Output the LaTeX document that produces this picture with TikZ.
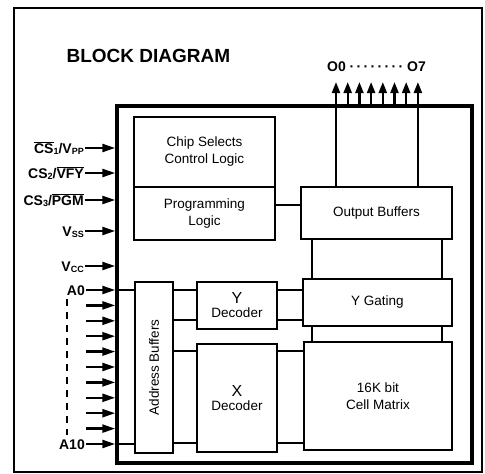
\documentclass[tikz,border=0pt]{standalone}
\usepackage{fontspec}
\setmainfont{Liberation Sans}
\usetikzlibrary{arrows.meta}
\newcommand{\ovl}[1]{$\overline{\mbox{#1}}$}
\newcommand{\lowsub}[1]{\raisebox{-0.25ex}{\fontsize{9}{10}\selectfont #1}}

\begin{document}
\begin{tikzpicture}[x=1pt, y=-1pt,
    myblock/.style={rectangle, draw, line width=2.8pt, inner sep=0pt, align=center, font=\fontsize{13.5}{17}\selectfont},
    decblock/.style={myblock, font=\fontsize{13.5}{14}\selectfont},
    chipbox/.style={rectangle, draw, line width=3.5pt, inner sep=0pt},
    pinlabel/.style={anchor=east, inner sep=1pt, text height=10pt, text depth=0pt, font=\bfseries\fontsize{14}{16}\selectfont},
    wire/.style={line width=2.4pt},
    pinarrow/.style={-{Triangle[length=13pt, width=8pt]}, line width=2.4pt},
    outarrow/.style={-{Triangle[length=11pt, width=8pt]}, line width=2.2pt},
    addrdash/.style={line width=2.2pt, dash pattern=on 7pt off 6pt},
]
\useasboundingbox (0,0) rectangle (485,474);
\draw[line width=1.6pt] (14,8) rectangle (482,472);

\node[anchor=base west, font=\bfseries\fontsize{19}{22}\selectfont] (title) at (63,62) {BLOCK DIAGRAM};

\node[chipbox, minimum width=355, minimum height=357] (chip) at (294.5,284.5) {};

\node[myblock, minimum width=141, minimum height=70] (cs)   at (204.5,152) {Chip Selects\\Control Logic};
\node[myblock, minimum width=141, minimum height=53] (prog) at (204.5,213.5) {Programming\\Logic};
\node[myblock, minimum width=151, minimum height=52] (outbuf) at (376.5,213) {Output Buffers};
\node[myblock, minimum width=149, minimum height=47] (ygate)  at (377.5,302.5) {Y Gating};
\node[myblock, minimum width=148, minimum height=108] (cell)  at (378,396) {16K bit\\Cell Matrix};
\node[decblock, minimum width=80, minimum height=47] (ydec)   at (237,305.5) {{\fontsize{16}{16}\selectfont Y}\\Decoder};
\node[decblock, minimum width=80, minimum height=108] (xdec)  at (237,398) {{\fontsize{16}{16}\selectfont X}\\Decoder};
\node[myblock, minimum width=38, minimum height=171] (addr)   at (154,367.5) {\rotatebox{90}{Address Buffers}};

% control and supply pins
\node[pinlabel] (cs1) at (85,148) {\ovl{CS}\lowsub{1}/V\lowsub{PP}};
\node[pinlabel] (cs2) at (85,173) {CS\lowsub{2}/\ovl{VFY}};
\node[pinlabel] (cs3) at (85,200) {CS\lowsub{3}/\ovl{PGM}};
\node[pinlabel] (vss) at (85,231) {V\lowsub{SS}};
\node[pinlabel] (vcc) at (85,266) {V\lowsub{CC}};
\foreach \p in {cs1,cs2,cs3,vss,vcc}
    \draw[pinarrow] (\p.east) -- (\p.east -| chip.west);

% address pins
\foreach \i in {0,...,10}
    \coordinate (p\i) at (86,290+15.4*\i);
\node[pinlabel] (a0lab)  at (p0)  {A0};
\node[pinlabel] (a10lab) at (p10) {A10};
\foreach \i in {0,...,10}
    \draw[pinarrow] (p\i) -- (p\i -| chip.west);
\draw[wire] (p0 -| chip.west) -- (p0 -| addr.west);
\draw[wire] (p10 -| chip.west) -- (p10 -| addr.west);
\coordinate (dash) at (67,0);
\draw[addrdash] ([yshift=-3pt]a0lab.south -| dash) -- ([yshift=3pt]a10lab.north -| dash);

% lanes between blocks
\coordinate (pl) at (0,205);
\coordinate (ya) at (0,290);
\coordinate (yb) at (0,320);
\coordinate (xa) at (0,351);
\coordinate (xb) at (0,443);
\coordinate (c1) at (312,0);
\coordinate (c2) at (442,0);

\draw[wire] (prog.east |- pl) -- (outbuf.west |- pl);
\foreach \l in {ya,yb} {
    \draw[wire] (addr.east |- \l) -- (ydec.west |- \l);
    \draw[wire] (ydec.east |- \l) -- (ygate.west |- \l);
}
\foreach \l in {xa,xb} {
    \draw[wire] (addr.east |- \l) -- (xdec.west |- \l);
    \draw[wire] (xdec.east |- \l) -- (cell.west |- \l);
}
\foreach \c in {c1,c2} {
    \draw[wire] (outbuf.south -| \c) -- (ygate.north -| \c);
    \draw[wire] (ygate.south -| \c) -- (cell.north -| \c);
}

% outputs
\foreach \i in {0,...,7}
    \coordinate (o\i) at (336+11.7*\i,82);
\foreach \i in {0,...,7}
    \draw[outarrow] (o\i |- chip.north) -- (o\i);
\draw[wire] (outbuf.north -| o0) -- (chip.north -| o0);
\draw[wire] (outbuf.north -| o7) -- (chip.north -| o7);
\node[font=\bfseries\fontsize{14}{16}\selectfont] (olab) at (376.5,67) {O0 ·\,·\,·\,·\,·\,·\,·\,· O7};
\end{tikzpicture}
\end{document}
